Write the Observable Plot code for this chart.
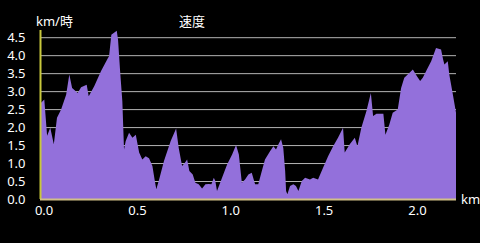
<!DOCTYPE html>
<html>
<head>
<meta charset="utf-8">
<script src="https://cdn.jsdelivr.net/npm/d3@7"></script>
<script src="https://cdn.jsdelivr.net/npm/@observablehq/plot@0.6"></script>
<style>
  html, body { margin: 0; padding: 0; background: #000; }
  #chart { width: 480px; height: 243px; overflow: hidden; }
</style>
</head>
<body>
<div id="chart"></div>
<script>
// distance (km)
const distance = [
  -0.019, 0.004, 0.019, 0.036, 0.055, 0.072, 0.094, 0.121, 0.138, 0.153,
  0.183, 0.201, 0.231, 0.242, 0.272, 0.308, 0.345, 0.351, 0.363, 0.392,
  0.399, 0.410, 0.422, 0.431, 0.440, 0.458, 0.476, 0.494, 0.512, 0.529,
  0.547, 0.565, 0.583, 0.596, 0.604, 0.619, 0.645, 0.681, 0.710, 0.724,
  0.742, 0.756, 0.769, 0.781, 0.799, 0.813, 0.831, 0.849, 0.867, 0.885,
  0.899, 0.912, 0.920, 0.929, 0.956, 0.983, 1.010, 1.031, 1.046, 1.062,
  1.079, 1.097, 1.115, 1.133, 1.150, 1.169, 1.186, 1.213, 1.231, 1.245,
  1.258, 1.272, 1.284, 1.294, 1.299, 1.306, 1.320, 1.338, 1.352, 1.365,
  1.383, 1.401, 1.427, 1.444, 1.470, 1.497, 1.524, 1.551, 1.577, 1.604,
  1.613, 1.640, 1.667, 1.681, 1.702, 1.729, 1.753, 1.765, 1.783, 1.820,
  1.831, 1.852, 1.870, 1.897, 1.915, 1.932, 1.978, 1.999, 2.017, 2.031,
  2.058, 2.076, 2.102, 2.129, 2.140, 2.147, 2.165, 2.173, 2.192, 2.209
];
// speed (km/h)
const speed = [
  2.65, 2.77, 1.76, 1.98, 1.52, 2.26, 2.49, 2.90, 3.46, 3.09,
  2.95, 3.11, 3.18, 2.86, 3.14, 3.56, 3.92, 3.97, 4.57, 4.68,
  4.43, 3.56, 2.72, 1.38, 1.61, 1.84, 1.70, 1.79, 1.29, 1.10,
  1.19, 1.13, 0.92, 0.50, 0.27, 0.54, 1.06, 1.61, 1.96, 1.42,
  0.92, 1.00, 1.10, 0.78, 0.68, 0.45, 0.41, 0.29, 0.41, 0.42,
  0.41, 0.59, 0.50, 0.22, 0.59, 0.96, 1.24, 1.50, 1.24, 0.45,
  0.54, 0.68, 0.73, 0.41, 0.41, 0.78, 1.10, 1.33, 1.47, 1.38,
  1.52, 1.66, 1.42, 0.78, 0.22, 0.13, 0.36, 0.41, 0.36, 0.22,
  0.50, 0.59, 0.54, 0.59, 0.54, 0.87, 1.19, 1.47, 1.70, 1.98,
  1.29, 1.52, 1.70, 1.47, 1.98, 2.44, 2.95, 2.31, 2.37, 2.37,
  1.79, 2.07, 2.40, 2.49, 3.09, 3.37, 3.60, 3.42, 3.28, 3.37,
  3.65, 3.83, 4.20, 4.16, 3.88, 3.74, 3.83, 3.46, 2.91, 2.40
];
const yTicks = [0, 0.5, 1, 1.5, 2, 2.5, 3, 3.5, 4, 4.5];
const xTicks = [0, 0.5, 1, 1.5, 2];
const yLabel = "km/時";
const xLabel = "km";
const title = "速度";

const data = distance.map((d, i) => ({distance: d, speed: speed[i]}));
const xMin = distance[0], xMax = distance[distance.length - 1];

const chart = Plot.plot({
  width: 480,
  height: 243,
  marginLeft: 40,
  marginRight: 24,
  marginTop: 30,
  marginBottom: 44,
  style: {
    background: "#000",
    color: "#fff",
    fontFamily: "'Noto Sans', 'Noto Sans CJK JP', sans-serif",
    fontSize: "13px"
  },
  x: {domain: [xMin, xMax]},
  y: {domain: [0, 4.7]},
  marks: [
    Plot.ruleY(yTicks.filter(d => d > 0), {stroke: "#b4b4b4", strokeWidth: 1}),
    Plot.areaY(data, {x: "distance", y: "speed", fill: "#9370db", curve: "linear"}),
    Plot.ruleX([xMin], {stroke: "#c8c83c", strokeWidth: 2}),
    Plot.ruleY([0], {stroke: "#d2c088", strokeWidth: 2}),
    Plot.axisY({ticks: yTicks, tickSize: 0, tickPadding: 15, tickFormat: d3.format(".1f"), label: null, fill: "#fff", fontSize: 13}),
    Plot.axisX({ticks: xTicks, tickSize: 0, tickPadding: 6, tickFormat: d3.format(".1f"), label: null, fill: "#fff", fontSize: 13})
  ]
});

const svg = d3.select(chart);
svg.append("text").attr("x", 36).attr("y", 26).attr("fill", "#fff")
  .attr("text-anchor", "start").style("font-size", "13px").text(yLabel);
svg.append("text").attr("x", 192).attr("y", 26).attr("fill", "#fff")
  .attr("text-anchor", "middle").style("font-size", "13px").text(title);
svg.append("text").attr("x", 461).attr("y", 199).attr("fill", "#fff")
  .attr("text-anchor", "start").attr("dy", "0.35em").style("font-size", "13px").text(xLabel);

document.getElementById("chart").appendChild(chart);
</script>
</body>
</html>
